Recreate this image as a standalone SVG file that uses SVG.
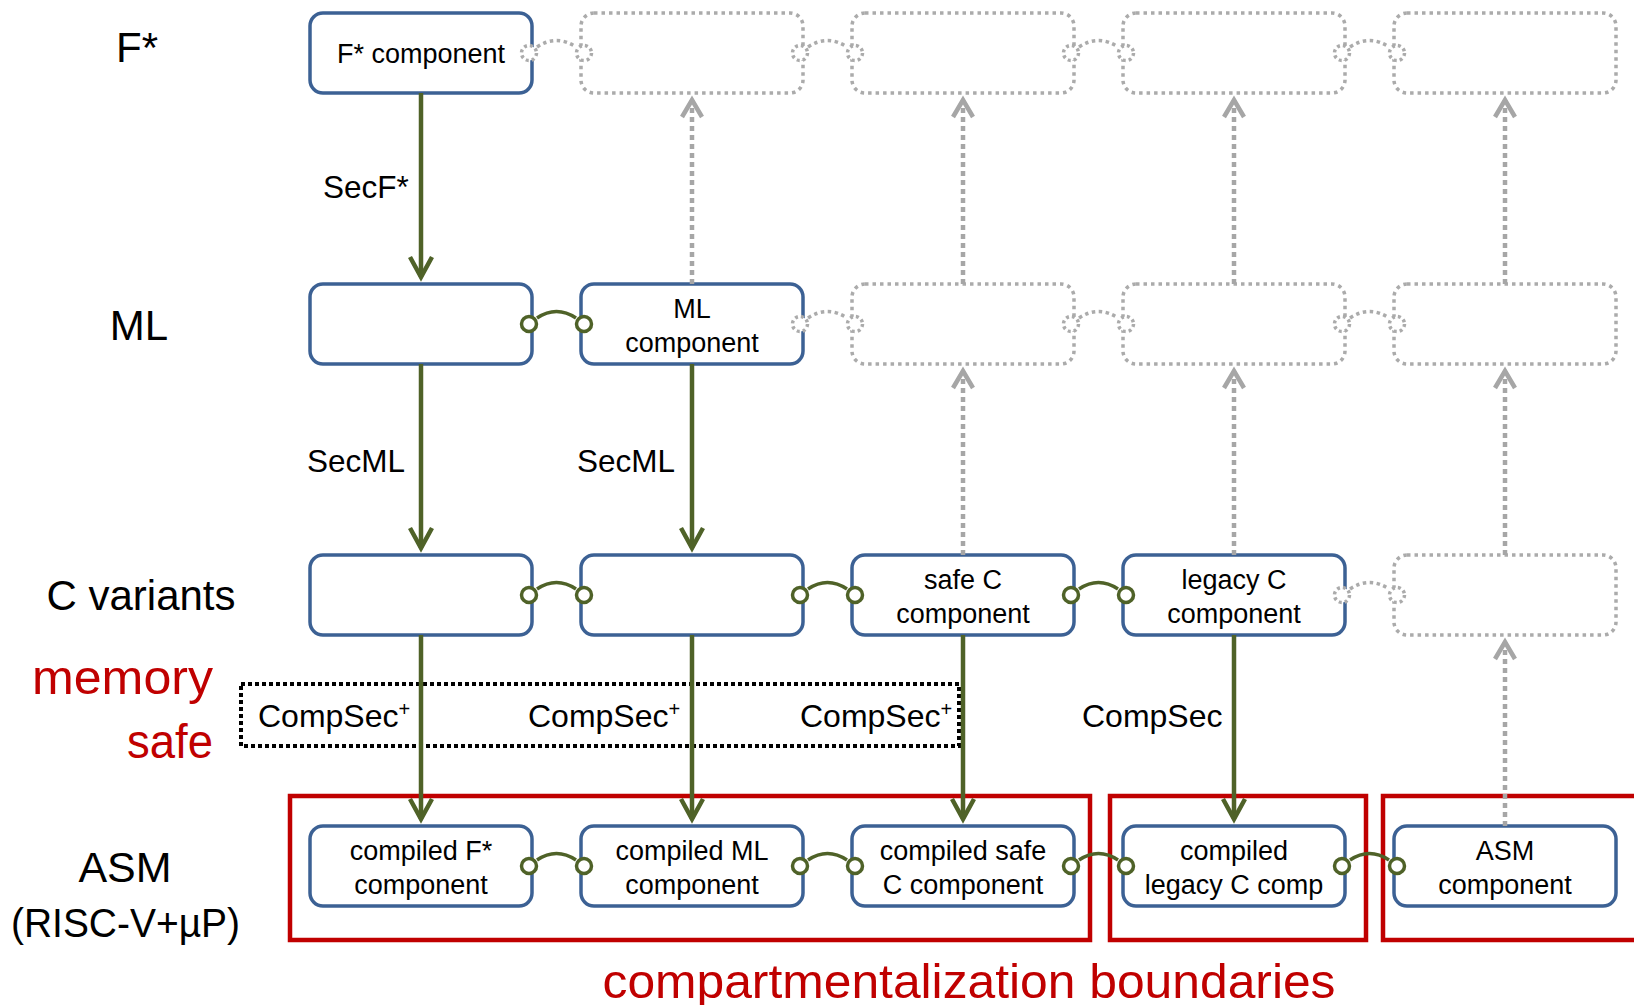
<svg xmlns="http://www.w3.org/2000/svg" width="1634" height="1005" viewBox="0 0 1634 1005">
  <style>
    .box { fill: #ffffff; stroke: #3C6194; stroke-width: 3.5; }
    .ghost { fill: none; stroke: #ABABAB; stroke-width: 3.5; stroke-dasharray: 3.5 4; }
    .t { font-family: "Liberation Sans", Arial, sans-serif; fill: #000000; }
    .bt { font-size: 27px; text-anchor: middle; }
    .lvl { font-size: 42px; text-anchor: middle; }
    .edge { font-size: 31.5px; }
    .red { fill: #C00000; }
    .flow { fill: none; stroke: #4F6228; stroke-width: 4.5; }
    .back { fill: none; stroke: #A6A6A6; stroke-width: 4.5; stroke-dasharray: 5 4; }
    .pin { fill: #ffffff; stroke: #4F6228; stroke-width: 3.5; }
    .link { fill: none; stroke: #4F6228; stroke-width: 3.5; }
    .gpin { fill: #ffffff; stroke: #ABABAB; stroke-width: 3.5; stroke-dasharray: 3 3; }
    .glink { fill: none; stroke: #ABABAB; stroke-width: 3.5; stroke-dasharray: 3.5 3.5; }
    .zone { fill: none; stroke: #C00000; stroke-width: 4.5; }
    .msafe { fill: none; stroke: #000000; stroke-width: 4; stroke-dasharray: 4 3; }
  </style>
  <defs>
    <marker id="headGreen" markerUnits="userSpaceOnUse" markerWidth="40" markerHeight="40" refX="0" refY="0" orient="auto" overflow="visible">
      <path d="M-20,-11 L0,0 L-20,11" fill="none" stroke="#4F6228" stroke-width="4.5"/>
    </marker>
    <marker id="headGray" markerUnits="userSpaceOnUse" markerWidth="40" markerHeight="40" refX="0" refY="0" orient="auto" overflow="visible">
      <path d="M-17,-10 L0,0 L-17,10" fill="none" stroke="#A6A6A6" stroke-width="4.5"/>
    </marker>
  </defs>

  <rect width="1634" height="1005" fill="#ffffff"/>

  <!-- level labels -->
  <g id="levels" class="t">
    <text class="t lvl" x="137" y="62">F*</text>
    <text class="t lvl" x="139" y="340">ML</text>
    <text class="t lvl" x="141" y="610">C variants</text>
    <text class="t red" x="213" y="694" font-size="48" text-anchor="end" textLength="181" lengthAdjust="spacingAndGlyphs">memory</text>
    <text class="t red" x="213" y="758" font-size="48" text-anchor="end" textLength="86" lengthAdjust="spacingAndGlyphs">safe</text>
    <text class="t" x="125" y="882" font-size="43" text-anchor="middle">ASM</text>
    <text class="t" x="11" y="937" font-size="40" textLength="229" lengthAdjust="spacingAndGlyphs">(RISC-V+µP)</text>
  </g>

  <!-- compartment boundaries -->
  <g id="boundaries">
    <rect class="zone" x="290" y="796" width="800" height="144"/>
    <rect class="zone" x="1110" y="796" width="256" height="144"/>
    <rect class="zone" x="1383" y="796" width="300" height="144"/>
    <text class="t red" x="969" y="998" font-size="48" text-anchor="middle" textLength="733" lengthAdjust="spacingAndGlyphs">compartmentalization boundaries</text>
  </g>

  <!-- memory-safe region -->
  <g id="memory-safe">
    <rect class="msafe" x="241" y="684" width="718" height="62"/>
  </g>

  <!-- placeholder (not yet present) components -->
  <g id="ghosts">
    <rect class="ghost" x="581" y="13" width="222" height="80" rx="13"/>
    <rect class="ghost" x="852" y="13" width="222" height="80" rx="13"/>
    <rect class="ghost" x="1123" y="13" width="222" height="80" rx="13"/>
    <rect class="ghost" x="1394" y="13" width="222" height="80" rx="13"/>
    <rect class="ghost" x="852" y="284" width="222" height="80" rx="13"/>
    <rect class="ghost" x="1123" y="284" width="222" height="80" rx="13"/>
    <rect class="ghost" x="1394" y="284" width="222" height="80" rx="13"/>
    <rect class="ghost" x="1394" y="555" width="222" height="80" rx="13"/>
  </g>

  <!-- components -->
  <g id="fstar-component">
    <rect class="box" x="310" y="13" width="222" height="80" rx="13"/>
    <text class="t bt" x="421" y="63">F* component</text>
  </g>
  <g id="ml-from-fstar">
    <rect class="box" x="310" y="284" width="222" height="80" rx="13"/>
  </g>
  <g id="ml-component">
    <rect class="box" x="581" y="284" width="222" height="80" rx="13"/>
    <text class="t bt" x="692" y="317.5">ML</text>
    <text class="t bt" x="692" y="352">component</text>
  </g>
  <g id="c-from-fstar">
    <rect class="box" x="310" y="555" width="222" height="80" rx="13"/>
  </g>
  <g id="c-from-ml">
    <rect class="box" x="581" y="555" width="222" height="80" rx="13"/>
  </g>
  <g id="safe-c-component">
    <rect class="box" x="852" y="555" width="222" height="80" rx="13"/>
    <text class="t bt" x="963" y="588.5">safe C</text>
    <text class="t bt" x="963" y="623">component</text>
  </g>
  <g id="legacy-c-component">
    <rect class="box" x="1123" y="555" width="222" height="80" rx="13"/>
    <text class="t bt" x="1234" y="588.5">legacy C</text>
    <text class="t bt" x="1234" y="623">component</text>
  </g>
  <g id="asm-fstar">
    <rect class="box" x="310" y="826" width="222" height="80" rx="13"/>
    <text class="t bt" x="421" y="859.5">compiled F*</text>
    <text class="t bt" x="421" y="894">component</text>
  </g>
  <g id="asm-ml">
    <rect class="box" x="581" y="826" width="222" height="80" rx="13"/>
    <text class="t bt" x="692" y="859.5">compiled ML</text>
    <text class="t bt" x="692" y="894">component</text>
  </g>
  <g id="asm-safe-c">
    <rect class="box" x="852" y="826" width="222" height="80" rx="13"/>
    <text class="t bt" x="963" y="859.5">compiled safe</text>
    <text class="t bt" x="963" y="894">C component</text>
  </g>
  <g id="asm-legacy-c">
    <rect class="box" x="1123" y="826" width="222" height="80" rx="13"/>
    <text class="t bt" x="1234" y="859.5">compiled</text>
    <text class="t bt" x="1234" y="894">legacy C comp</text>
  </g>
  <g id="asm-component">
    <rect class="box" x="1394" y="826" width="222" height="80" rx="13"/>
    <text class="t bt" x="1505" y="859.5">ASM</text>
    <text class="t bt" x="1505" y="894">component</text>
  </g>

  <!-- connectors -->
  <g id="connectors">
    <!-- back-translation (dotted, upward) -->
    <path class="back" d="M692,284 V100" marker-end="url(#headGray)"/>
    <path class="back" d="M963,284 V100" marker-end="url(#headGray)"/>
    <path class="back" d="M963,555 V371" marker-end="url(#headGray)"/>
    <path class="back" d="M1234,284 V100" marker-end="url(#headGray)"/>
    <path class="back" d="M1234,555 V371" marker-end="url(#headGray)"/>
    <path class="back" d="M1505,284 V100" marker-end="url(#headGray)"/>
    <path class="back" d="M1505,555 V371" marker-end="url(#headGray)"/>
    <path class="back" d="M1505,826 V642" marker-end="url(#headGray)"/>

    <!-- compilation (solid, downward) -->
    <path class="flow" d="M421,93 V277" marker-end="url(#headGreen)"/>
    <path class="flow" d="M421,364 V548" marker-end="url(#headGreen)"/>
    <path class="flow" d="M692,364 V548" marker-end="url(#headGreen)"/>
    <path class="flow" d="M421,635 V819" marker-end="url(#headGreen)"/>
    <path class="flow" d="M692,635 V819" marker-end="url(#headGreen)"/>
    <path class="flow" d="M963,635 V819" marker-end="url(#headGreen)"/>
    <path class="flow" d="M1234,635 V819" marker-end="url(#headGreen)"/>

    <!-- compiler labels -->
    <text class="t edge" x="323" y="198">SecF*</text>
    <text class="t edge" x="307" y="472">SecML</text>
    <text class="t edge" x="577" y="472">SecML</text>
    <text class="t" x="258" y="727" font-size="32">CompSec<tspan font-size="20" dy="-11">+</tspan></text>
    <text class="t" x="528" y="727" font-size="32">CompSec<tspan font-size="20" dy="-11">+</tspan></text>
    <text class="t" x="800" y="727" font-size="32">CompSec<tspan font-size="20" dy="-11">+</tspan></text>
    <text class="t" x="1082" y="727" font-size="32">CompSec</text>

    <!-- interface links, F* level (placeholders) -->
    <path class="glink" d="M537,47 Q556.5,34 576,47"/>
    <circle class="gpin" cx="529" cy="53" r="7.5"/><circle class="gpin" cx="584" cy="53" r="7.5"/>
    <path class="glink" d="M808,47 Q827.5,34 847,47"/>
    <circle class="gpin" cx="800" cy="53" r="7.5"/><circle class="gpin" cx="855" cy="53" r="7.5"/>
    <path class="glink" d="M1079,47 Q1098.5,34 1118,47"/>
    <circle class="gpin" cx="1071" cy="53" r="7.5"/><circle class="gpin" cx="1126" cy="53" r="7.5"/>
    <path class="glink" d="M1350,47 Q1369.5,34 1389,47"/>
    <circle class="gpin" cx="1342" cy="53" r="7.5"/><circle class="gpin" cx="1397" cy="53" r="7.5"/>

    <!-- interface links, ML level -->
    <path class="link" d="M537,318 Q556.5,305 576,318"/>
    <circle class="pin" cx="529" cy="324" r="7.5"/><circle class="pin" cx="584" cy="324" r="7.5"/>
    <path class="glink" d="M808,318 Q827.5,305 847,318"/>
    <circle class="gpin" cx="800" cy="324" r="7.5"/><circle class="gpin" cx="855" cy="324" r="7.5"/>
    <path class="glink" d="M1079,318 Q1098.5,305 1118,318"/>
    <circle class="gpin" cx="1071" cy="324" r="7.5"/><circle class="gpin" cx="1126" cy="324" r="7.5"/>
    <path class="glink" d="M1350,318 Q1369.5,305 1389,318"/>
    <circle class="gpin" cx="1342" cy="324" r="7.5"/><circle class="gpin" cx="1397" cy="324" r="7.5"/>

    <!-- interface links, C level -->
    <path class="link" d="M537,589 Q556.5,576 576,589"/>
    <circle class="pin" cx="529" cy="595" r="7.5"/><circle class="pin" cx="584" cy="595" r="7.5"/>
    <path class="link" d="M808,589 Q827.5,576 847,589"/>
    <circle class="pin" cx="800" cy="595" r="7.5"/><circle class="pin" cx="855" cy="595" r="7.5"/>
    <path class="link" d="M1079,589 Q1098.5,576 1118,589"/>
    <circle class="pin" cx="1071" cy="595" r="7.5"/><circle class="pin" cx="1126" cy="595" r="7.5"/>
    <path class="glink" d="M1350,589 Q1369.5,576 1389,589"/>
    <circle class="gpin" cx="1342" cy="595" r="7.5"/><circle class="gpin" cx="1397" cy="595" r="7.5"/>

    <!-- interface links, ASM level -->
    <path class="link" d="M537,860 Q556.5,847 576,860"/>
    <circle class="pin" cx="529" cy="866" r="7.5"/><circle class="pin" cx="584" cy="866" r="7.5"/>
    <path class="link" d="M808,860 Q827.5,847 847,860"/>
    <circle class="pin" cx="800" cy="866" r="7.5"/><circle class="pin" cx="855" cy="866" r="7.5"/>
    <path class="link" d="M1079,860 Q1098.5,847 1118,860"/>
    <circle class="pin" cx="1071" cy="866" r="7.5"/><circle class="pin" cx="1126" cy="866" r="7.5"/>
    <path class="link" d="M1350,860 Q1369.5,847 1389,860"/>
    <circle class="pin" cx="1342" cy="866" r="7.5"/><circle class="pin" cx="1397" cy="866" r="7.5"/>
  </g>
</svg>
